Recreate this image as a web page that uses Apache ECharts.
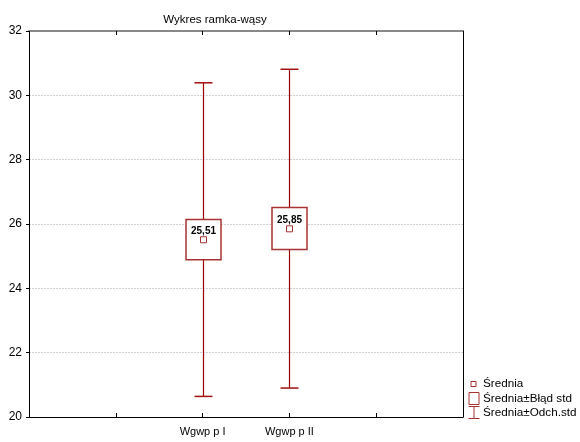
<!DOCTYPE html>
<html>
<head>
<meta charset="utf-8">
<script src="https://cdn.jsdelivr.net/npm/echarts@6/dist/echarts.min.js"></script>
<style>html,body{margin:0;padding:0;background:#fff}#c{width:580px;height:442px}</style>
</head>
<body>
<div id="c"></div>
<script>
// Data
var xCategories = ['', '', 'Wgwp p I', 'Wgwp p II', '', ''];
var groups = ['Wgwp p I', 'Wgwp p II'];
var means = [25.51, 25.85];
var boxHigh = [26.14, 26.51];     // Średnia + Błąd std
var boxLow = [24.89, 25.21];      // Średnia - Błąd std
var whiskerHigh = [30.39, 30.81]; // Średnia + Odch.std
var whiskerLow = [20.64, 20.90];  // Średnia - Odch.std
var meanLabels = ['25,51', '25,85'];

var RED = '#9a0000';
var BOXRED = '#a83232';

var data = groups.map(function (g, i) {
  return [xCategories.indexOf(g), means[i], boxLow[i], boxHigh[i], whiskerLow[i], whiskerHigh[i], i];
});

function renderItem(params, api) {
  var xi = api.value(0);
  var pM = api.coord([xi, api.value(1)]);
  var pBL = api.coord([xi, api.value(2)]);
  var pBH = api.coord([xi, api.value(3)]);
  var pWL = api.coord([xi, api.value(4)]);
  var pWH = api.coord([xi, api.value(5)]);
  var x = Math.round(pM[0]) + 0.5;
  var boxW = 35, capW = 18, mk = 6;
  var lineStyle = { stroke: RED, lineWidth: 1.2 };
  var idx = api.value(6);
  return {
    type: 'group',
    children: [
      { type: 'line', shape: { x1: x, y1: pWH[1], x2: x, y2: pBH[1] }, style: lineStyle },
      { type: 'line', shape: { x1: x, y1: pBL[1], x2: x, y2: pWL[1] }, style: lineStyle },
      { type: 'line', shape: { x1: x - capW / 2, y1: pWH[1], x2: x + capW / 2, y2: pWH[1] }, style: { stroke: '#a01010', lineWidth: 1.5 } },
      { type: 'line', shape: { x1: x - capW / 2, y1: pWL[1], x2: x + capW / 2, y2: pWL[1] }, style: { stroke: '#a01010', lineWidth: 1.5 } },
      { type: 'rect', shape: { x: x - boxW / 2, y: pBH[1], width: boxW, height: pBL[1] - pBH[1] },
        style: { fill: '#fff', stroke: BOXRED, lineWidth: 1.5 } },
      { type: 'rect', shape: { x: x - mk / 2, y: pM[1] - mk / 2, width: mk, height: mk },
        style: { fill: '#fff', stroke: BOXRED, lineWidth: 1 } },
      { type: 'text', x: x, y: pM[1] - mk / 2 - 1,
        style: { text: meanLabels[idx], textAlign: 'center', textVerticalAlign: 'bottom',
          font: 'bold 10px "Liberation Sans", Arial, sans-serif', fill: '#000' } }
    ]
  };
}

var font = '"Liberation Sans", Arial, sans-serif';
var chart = echarts.init(document.getElementById('c'), null, { renderer: 'canvas' });
chart.setOption({
  animation: false,
  backgroundColor: '#fff',
  title: {
    text: 'Wykres ramka-wąsy', left: 210, top: 9, textAlign: 'center',
    textStyle: { fontSize: 11.5, fontWeight: 'normal', color: '#000', fontFamily: font }
  },
  grid: { left: 29, right: 117, top: 31, bottom: 25, containLabel: false },
  xAxis: [{
    type: 'category', data: xCategories, boundaryGap: false,
    axisLine: { lineStyle: { color: '#000', width: 1 } },
    axisTick: { inside: true, length: 4, lineStyle: { color: '#000' } },
    axisLabel: { color: '#000', fontSize: 11, fontFamily: font, margin: 9, interval: 0 },
    splitLine: { show: false }
  }, {
    type: 'category', data: xCategories, boundaryGap: false, position: 'top',
    axisLine: { lineStyle: { color: '#888', width: 2 } },
    axisTick: { inside: true, length: 4, lineStyle: { color: '#000' } },
    axisLabel: { show: false }, splitLine: { show: false }
  }],
  yAxis: [{
    type: 'value', min: 20, max: 32, interval: 2,
    axisLine: { show: true, lineStyle: { color: '#000', width: 1 } },
    axisTick: { show: true, length: 3, lineStyle: { color: '#000' } },
    axisLabel: { color: '#000', fontSize: 12, fontFamily: font, margin: 7 },
    splitLine: { show: true, lineStyle: { color: '#d2d2d2', type: [2, 1], width: 1 } }
  }, {
    type: 'value', min: 20, max: 32, interval: 2, position: 'right',
    axisLine: { show: true, lineStyle: { color: '#000', width: 1 } },
    axisTick: { show: false }, axisLabel: { show: false }, splitLine: { show: false }
  }],
  series: [{
    type: 'custom', name: 'Średnia±Odch.std', renderItem: renderItem, data: data,
    encode: { x: 0, y: [4, 5] }, clip: false
  }],
  graphic: [{
    type: 'group', left: 466, top: 378,
    children: [
      { type: 'rect', shape: { x: 3.5, y: 4.5, width: 5, height: 5 }, style: { fill: '#fff', stroke: BOXRED, lineWidth: 1 } },
      { type: 'text', x: 15.5, y: 7, style: { text: 'Średnia', font: '11.7px ' + font, fill: '#000', textVerticalAlign: 'middle' } },
      { type: 'rect', shape: { x: 1.5, y: 15.5, width: 10, height: 12 }, style: { fill: '#fff', stroke: BOXRED, lineWidth: 1 } },
      { type: 'text', x: 15.5, y: 22, style: { text: 'Średnia±Błąd std', font: '11.7px ' + font, fill: '#000', textVerticalAlign: 'middle' } },
      { type: 'line', shape: { x1: 1, y1: 29.5, x2: 12, y2: 29.5 }, style: { stroke: BOXRED, lineWidth: 1 } },
      { type: 'line', shape: { x1: 6.5, y1: 29.5, x2: 6.5, y2: 41.5 }, style: { stroke: BOXRED, lineWidth: 1 } },
      { type: 'line', shape: { x1: 1, y1: 41.5, x2: 12, y2: 41.5 }, style: { stroke: BOXRED, lineWidth: 1 } },
      { type: 'text', x: 15.5, y: 36, style: { text: 'Średnia±Odch.std', font: '11.7px ' + font, fill: '#000', textVerticalAlign: 'middle' } }
    ]
  }]
});
</script>
</body>
</html>
